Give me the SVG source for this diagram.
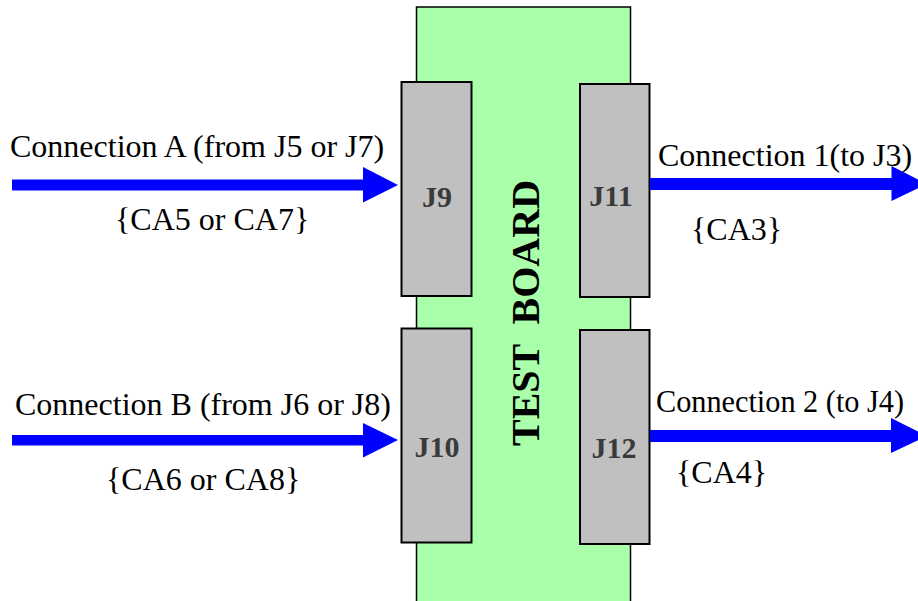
<svg xmlns="http://www.w3.org/2000/svg" width="918" height="601" viewBox="0 0 918 601">
<style>
.board{fill:#aaffaa;stroke:#000;stroke-width:1.5}
.conn{fill:#c0c0c0;stroke:#000;stroke-width:2}
.jl{font-family:"Liberation Serif",serif;font-weight:bold;font-size:30px;fill:#3a3a3a;text-anchor:middle}
.tb{font-family:"Liberation Serif",serif;font-weight:bold;font-size:40px;fill:#000;text-anchor:middle}
.lbl{font-family:"Liberation Serif",serif;font-size:32px;fill:#000}
.arr{fill:#0000ff}
</style>
<rect width="918" height="601" fill="#fff"/>
<g id="board">
<rect class="board" x="416.5" y="7" width="214" height="600"/>
<text class="tb" transform="translate(539,313) rotate(-90)" xml:space="preserve">TEST  BOARD</text>
</g>
<g id="J9"><rect class="conn" x="401.5" y="82" width="70" height="214"/><text class="jl" x="437" y="207">J9</text></g>
<g id="J11"><rect class="conn" x="580" y="84" width="69.5" height="213"/><text class="jl" x="611" y="206">J11</text></g>
<g id="J10"><rect class="conn" x="401.5" y="328.5" width="70" height="214"/><text class="jl" x="437" y="457">J10</text></g>
<g id="J12"><rect class="conn" x="580" y="330" width="69.5" height="214"/><text class="jl" x="614" y="458">J12</text></g>
<g id="connectors">
<polygon class="arr" points="12,179.5 363,179.5 363,167 398,185 363,202.5 363,190.5 12,190.5"/>
<polygon class="arr" points="12,435 363,435 363,423 398,440 363,457.5 363,445.5 12,445.5"/>
<polygon class="arr" points="650,178 891.5,178 891.5,166 927,184 891.5,201 891.5,190 650,190"/>
<polygon class="arr" points="650,430 891,430 891,418 927,436 891,453 891,442 650,442"/>
<text class="lbl" x="10" y="157">Connection A (from J5 or J7)</text>
<text class="lbl" x="115" y="230">{CA5 or CA7}</text>
<text class="lbl" x="15" y="415">Connection B (from J6 or J8)</text>
<text class="lbl" x="106" y="490">{CA6 or CA8}</text>
<text class="lbl" x="658" y="166">Connection 1(to J3)</text>
<text class="lbl" x="691" y="240">{CA3}</text>
<text class="lbl" x="656" y="412" font-size="31" textLength="248" lengthAdjust="spacingAndGlyphs">Connection 2 (to J4)</text>
<text class="lbl" x="676" y="483">{CA4}</text>
</g>
</svg>
